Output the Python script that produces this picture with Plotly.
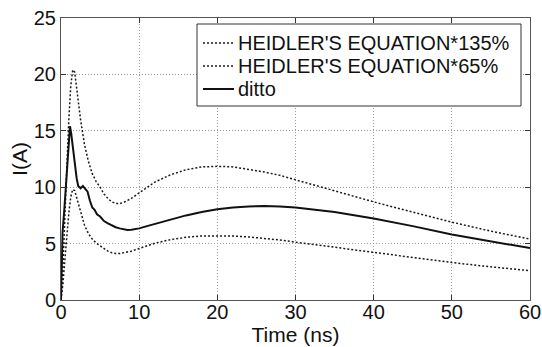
import plotly.graph_objects as go

# Heidler's equation scaled by 135%
t_h = [0, 0.25, 0.5, 0.75, 1.0, 1.25, 1.5, 1.75, 2.0, 2.5, 3.0, 3.5, 4.0, 4.5, 5.0, 5.5,
       6.0, 6.5, 7.0, 7.5, 8.0, 9.0, 10, 11, 12, 14, 16, 18, 20, 22, 24, 26, 28, 30,
       35, 40, 45, 50, 55, 60]
i_135 = [0, 3.0, 7.5, 12.0, 16.0, 19.0, 20.4, 20.2, 18.8, 16.0, 13.8, 12.3, 11.2, 10.5, 10.0, 9.4,
         9.0, 8.7, 8.55, 8.55, 8.65, 9.0, 9.5, 10.0, 10.45, 11.1, 11.55, 11.8, 11.85, 11.8, 11.6, 11.35, 11.05, 10.65,
         9.7, 8.7, 7.8, 6.9, 6.1, 5.4]
# Heidler's equation scaled by 65%
i_65 = [0, 1.45, 3.6, 5.8, 7.7, 9.15, 9.8, 9.7, 9.05, 7.7, 6.65, 5.9, 5.4, 5.05, 4.8, 4.52,
        4.33, 4.19, 4.12, 4.12, 4.17, 4.33, 4.57, 4.8, 5.03, 5.35, 5.56, 5.68, 5.7, 5.68, 5.59, 5.47, 5.32, 5.13,
        4.67, 4.19, 3.76, 3.32, 2.94, 2.6]
# "ditto" simulated current
t_d = [0, 0.1, 0.2, 0.4, 0.6, 0.8, 1.0, 1.15, 1.3, 1.6, 2.0, 2.2, 2.5, 2.8, 3.1, 3.4, 3.7, 4.0,
       4.3, 4.6, 5.0, 5.5, 6.0, 6.5, 7.0, 7.5, 8.0, 8.5, 9.0, 10, 11, 12, 13, 14, 16, 18, 20,
       22, 24, 26, 28, 30, 32, 35, 40, 45, 50, 55, 60]
i_d = [0, 4.5, 6.0, 7.8, 10.0, 12.5, 14.5, 15.4, 14.8, 13.0, 10.8, 10.1, 9.9, 10.1, 9.8, 9.6, 8.8, 8.2,
       8.0, 7.6, 7.4, 7.0, 6.8, 6.6, 6.45, 6.35, 6.25, 6.2, 6.22, 6.35, 6.55, 6.75, 6.95, 7.15, 7.5, 7.8, 8.05,
       8.2, 8.3, 8.33, 8.3, 8.2, 8.05, 7.8, 7.22, 6.55, 5.8, 5.2, 4.6]

series_names = ["HEIDLER'S EQUATION*135%", "HEIDLER'S EQUATION*65%", "ditto"]
x_ticks = [0, 10, 20, 30, 40, 50, 60]
y_ticks = [0, 5, 10, 15, 20, 25]

FONT = "Liberation Sans, Arial, sans-serif"
TXT = "#111111"
W, H = 542, 347
ML, MR, MT, MB = 61, 12, 18, 47
PW, PH = W - ML - MR, H - MT - MB

DOT = dict(color="#1a1a1a", width=1.5, dash="2px,2px")
SOLID = dict(color="#111111", width=2)
styles = [DOT, DOT, SOLID]


def px_x(px):
    return (px - ML) / PW


def px_y(py):
    return (H - MB - py) / PH


fig = go.Figure()
fig.add_trace(go.Scatter(x=t_h, y=i_135, mode="lines", name=series_names[0], line=DOT, showlegend=False))
fig.add_trace(go.Scatter(x=t_h, y=i_65, mode="lines", name=series_names[1], line=DOT, showlegend=False))
fig.add_trace(go.Scatter(x=t_d, y=i_d, mode="lines", name=series_names[2], line=SOLID, showlegend=False))

axis_common = dict(showline=True, linecolor="#555555", linewidth=1, mirror="ticks",
                   ticks="inside", ticklen=5, tickcolor="#333333",
                   showgrid=True, gridcolor="#9a9a9a", griddash="1px,2px", gridwidth=1,
                   zeroline=False, automargin=False,
                   tickfont=dict(family=FONT, size=20, color=TXT))

fig.update_xaxes(range=[0, 60], tickvals=x_ticks, ticktext=[str(v) for v in x_ticks],
                 ticklabelstandoff=-6,
                 title=dict(text="Time (ns)", font=dict(family=FONT, size=21, color=TXT), standoff=0),
                 **axis_common)
fig.update_yaxes(range=[0, 25], tickvals=y_ticks, ticktext=[str(v) for v in y_ticks],
                 ticklabelstandoff=0,
                 title=dict(text="I(A)", font=dict(family=FONT, size=21, color=TXT), standoff=0),
                 **axis_common)

# Legend box (drawn manually to match the compact MATLAB-style legend)
shapes = [dict(type="rect", xref="paper", yref="paper",
               x0=px_x(197), x1=px_x(521), y0=px_y(106), y1=px_y(24),
               line=dict(color="#333333", width=1), fillcolor="white", layer="above")]
annotations = []
row_y = [43, 66, 89]
for name, st, ry in zip(series_names, styles, row_y):
    shapes.append(dict(type="line", xref="paper", yref="paper",
                       x0=px_x(203), x1=px_x(234), y0=px_y(ry), y1=px_y(ry),
                       line=st, layer="above"))
    annotations.append(dict(xref="paper", yref="paper", x=px_x(236), y=px_y(ry),
                            xanchor="left", yanchor="middle", showarrow=False,
                            text=name, font=dict(family=FONT, size=20, color=TXT)))

fig.update_layout(
    width=W, height=H,
    margin=dict(l=ML, r=MR, t=MT, b=MB),
    paper_bgcolor="white", plot_bgcolor="white",
    showlegend=False,
    shapes=shapes,
    annotations=annotations,
)

fig.write_html("out.html")
